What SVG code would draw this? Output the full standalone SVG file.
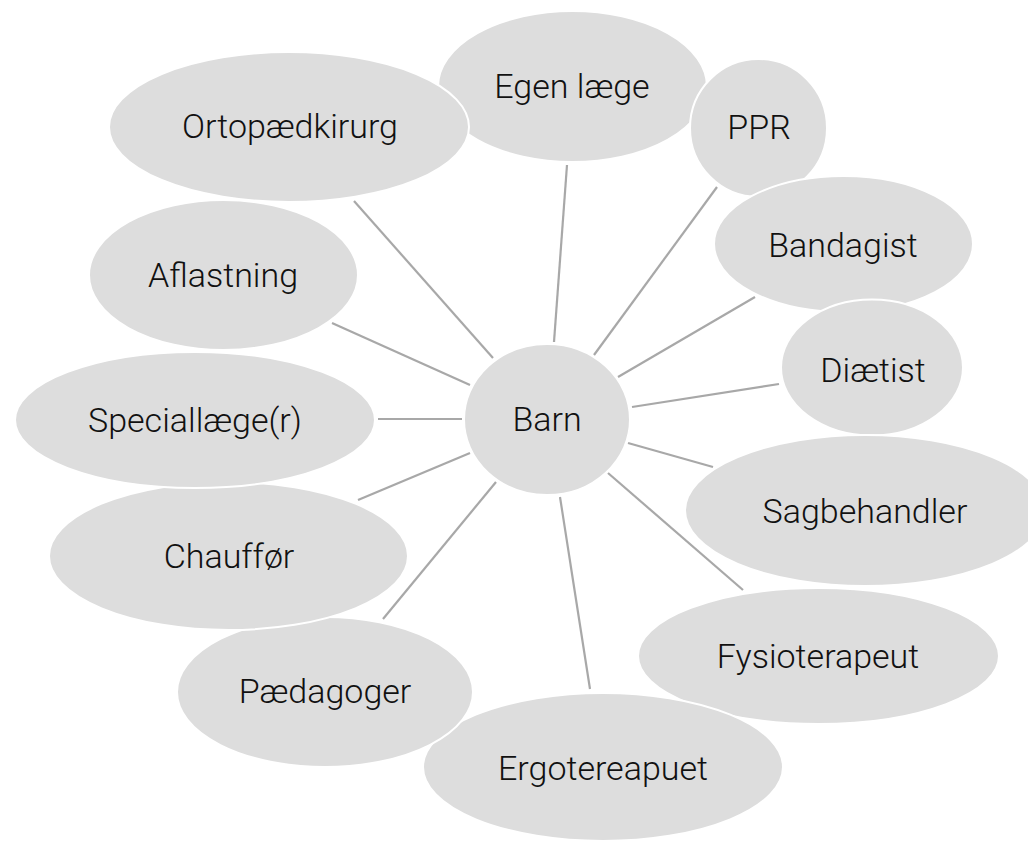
<svg xmlns="http://www.w3.org/2000/svg" width="1028" height="842" viewBox="0 0 1028 842">
<style>
.n ellipse{fill:#dddddd;stroke:#ffffff;stroke-width:2}
.n text{font-family:"Roboto Light",Roboto,"Liberation Sans",sans-serif;font-weight:300;font-size:34px;fill:#111111;text-anchor:middle}
#connectors line{stroke:#a8a8a8;stroke-width:2.2;fill:none}
</style>
<rect width="1028" height="842" fill="#ffffff"/>
<g id="connectors">
<line x1="554" y1="342" x2="567" y2="165"/>
<line x1="594" y1="355" x2="717" y2="187"/>
<line x1="618" y1="377" x2="755" y2="297"/>
<line x1="632" y1="407" x2="779" y2="384"/>
<line x1="628" y1="443" x2="713" y2="467"/>
<line x1="608" y1="473" x2="743" y2="590"/>
<line x1="560" y1="497" x2="590" y2="689"/>
<line x1="496" y1="482" x2="383" y2="619"/>
<line x1="470" y1="453" x2="358" y2="500"/>
<line x1="462" y1="419" x2="378" y2="419"/>
<line x1="470" y1="385" x2="332" y2="323"/>
<line x1="493" y1="358" x2="354" y2="201"/>
</g>
<g id="barn" class="n"><ellipse cx="547" cy="419.5" rx="83" ry="75.5"/><text x="547" y="431">Barn</text></g>
<g id="egen-laege" class="n"><ellipse cx="572.5" cy="86.5" rx="134.5" ry="75.5"/><text x="572" y="98">Egen læge</text></g>
<g id="ppr" class="n"><ellipse cx="758.5" cy="128" rx="68.5" ry="69"/><text x="759" y="139">PPR</text></g>
<g id="bandagist" class="n"><ellipse cx="843.5" cy="244" rx="129.5" ry="68"/><text x="843" y="257">Bandagist</text></g>
<g id="diaetist" class="n"><ellipse cx="872" cy="367.5" rx="91" ry="68"/><text x="873" y="382">Diætist</text></g>
<g id="sagbehandler" class="n"><ellipse cx="865" cy="510.5" rx="180" ry="75.5"/><text x="865" y="523">Sagbehandler</text></g>
<g id="fysioterapeut" class="n"><ellipse cx="818.5" cy="656" rx="180.5" ry="68"/><text x="818" y="668">Fysioterapeut</text></g>
<g id="ergotereapuet" class="n"><ellipse cx="603" cy="767" rx="180" ry="74"/><text x="603" y="780">Ergotereapuet</text></g>
<g id="paedagoger" class="n"><ellipse cx="325" cy="692" rx="148" ry="75"/><text x="325" y="703">Pædagoger</text></g>
<g id="chauffoer" class="n"><ellipse cx="228.5" cy="556" rx="179.5" ry="74"/><text x="229" y="568">Chauffør</text></g>
<g id="speciallaege" class="n"><ellipse cx="195" cy="420" rx="180" ry="68"/><text x="195" y="432">Speciallæge(r)</text></g>
<g id="aflastning" class="n"><ellipse cx="223.5" cy="275" rx="134.5" ry="75"/><text x="223" y="287">Aflastning</text></g>
<g id="ortopaedkirurg" class="n"><ellipse cx="289" cy="127" rx="180" ry="75"/><text x="290" y="138">Ortopædkirurg</text></g>
</svg>
